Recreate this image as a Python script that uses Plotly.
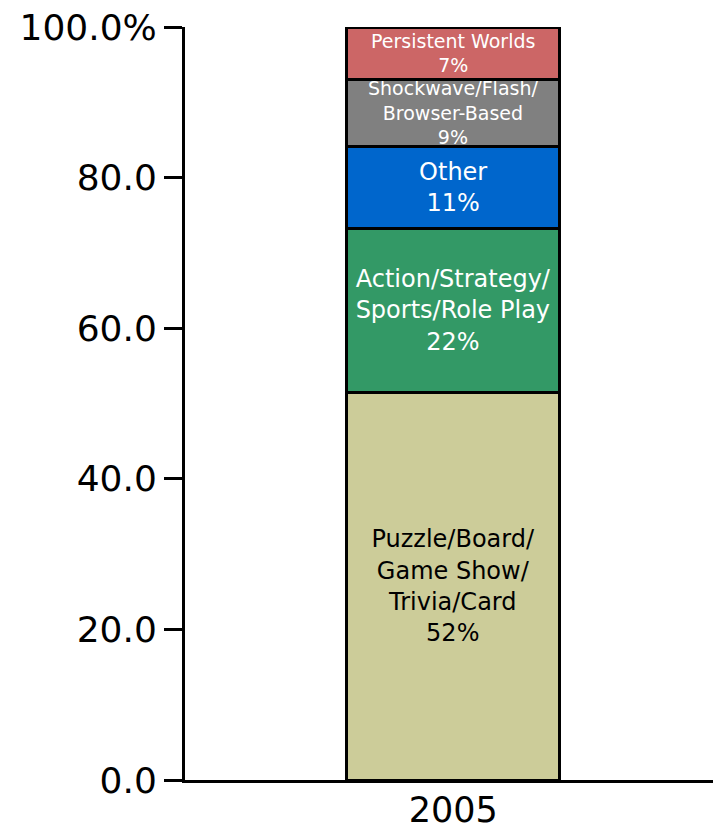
import plotly.graph_objects as go

year = ["2005"]
genres = [
    "Puzzle/Board/<br>Game Show/<br>Trivia/Card",
    "Action/Strategy/<br>Sports/Role Play",
    "Other",
    "Shockwave/Flash/<br>Browser-Based",
    "Persistent Worlds",
]
shares = [52, 22, 11, 9, 7]
colors = ["#cccc99", "#339966", "#0066cc", "#808080", "#cc6666"]
text_colors = ["black", "white", "white", "white", "white"]
text_sizes = [24, 24, 24, 19, 19]
y_ticks = [0, 20, 40, 60, 80, 100]
y_tick_labels = ["0.0", "20.0", "40.0", "60.0", "80.0", "100.0%"]

FONT = "Verdana, DejaVu Sans, sans-serif"

fig = go.Figure()
for g, v, c, tc, ts in zip(genres, shares, colors, text_colors, text_sizes):
    fig.add_trace(go.Bar(
        x=year, y=[v], name=g.replace("<br>", ""),
        marker=dict(color=c, line=dict(color="black", width=3)),
        text=[f"{g}<br>{v}%"], textposition="inside",
        insidetextanchor="middle", constraintext="none",
        textfont=dict(family=FONT, size=ts, color=tc),
        width=0.403, hoverinfo="skip",
    ))

fig.update_layout(
    width=713, height=830,
    margin=dict(l=185, r=0, t=27, b=50, autoexpand=False),
    barmode="stack", barnorm="percent",
    showlegend=False,
    plot_bgcolor="white", paper_bgcolor="white",
    font=dict(family=FONT, size=36, color="black"),
)
fig.update_xaxes(
    type="category", range=[-0.508, 0.492], automargin=False,
    showline=True, linecolor="black", linewidth=3,
    ticks="", showgrid=False, ticklabelstandoff=-3,
    tickfont=dict(family=FONT, size=35, color="black"),
)
fig.update_yaxes(
    range=[0, 100], tickvals=y_ticks, ticktext=y_tick_labels, automargin=False,
    showline=True, linecolor="black", linewidth=3,
    ticks="outside", ticklen=18, tickwidth=3, tickcolor="black",
    showgrid=False, zeroline=False,
    tickfont=dict(family=FONT, size=36, color="black"),
)

fig.write_html("out.html")
